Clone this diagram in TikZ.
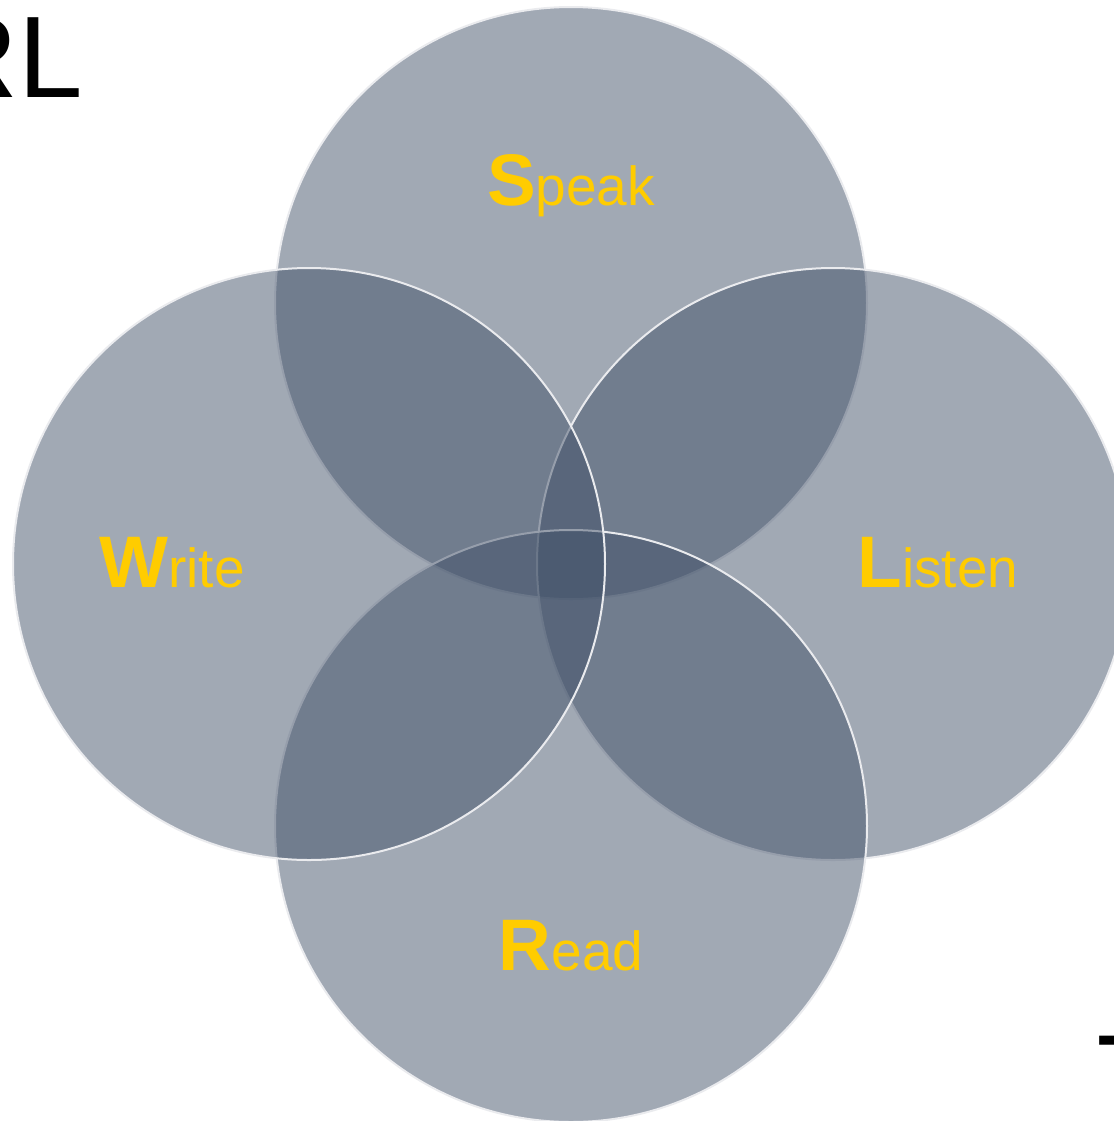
\documentclass[tikz,border=0pt]{standalone}
\usepackage{fontspec}
\newfontfamily\arialf{Liberation Sans}
\definecolor{ringfill}{RGB}{63,79,103}
\definecolor{ringline}{RGB}{234,235,238}
\definecolor{skillgold}{RGB}{255,204,0}
\newcommand{\skillinitial}[1]{{\fontsize{36.5}{38}\selectfont\bfseries #1}}

\begin{document}
\begin{tikzpicture}[x=0.5pt,y=-0.5pt]
\tikzset{
  ring/.style={circle,draw=ringline,line width=1pt,fill=ringfill,fill opacity=0.49,
    minimum size=296pt,inner sep=0pt},
  skill/.style={anchor=base,inner sep=0pt,text=skillgold,font=\arialf\fontsize{27.5}{29}\selectfont},
  cutoff/.style={inner sep=0pt,font=\arialf\fontsize{58}{60}\selectfont}
}
\clip (0,0) rectangle (1114,1121);
\useasboundingbox (0,0) rectangle (1114,1121);
% rings, back to front
\node[ring] (c_speak) at (571,303) {};
\node[ring] (c_listen) at (833,564) {};
\node[ring] (c_read) at (571,826) {};
\node[ring] (c_write) at (309,564) {};
% labels
\node[skill] (t_speak) at (571,205) {\skillinitial{S}peak};
\node[skill] (t_write) at (172,587) {\skillinitial{W}rite};
\node[skill] (t_listen) at (938,587) {\skillinitial{L}isten};
\node[skill] (t_read) at (571,970) {\skillinitial{R}ead};
% cut off text at the edges
\node[cutoff,anchor=base east] (t_head) at (83,97) {RL};
\node[cutoff,anchor=base west] (t_dash) at (1094,1071) {-};
\end{tikzpicture}
\end{document}
